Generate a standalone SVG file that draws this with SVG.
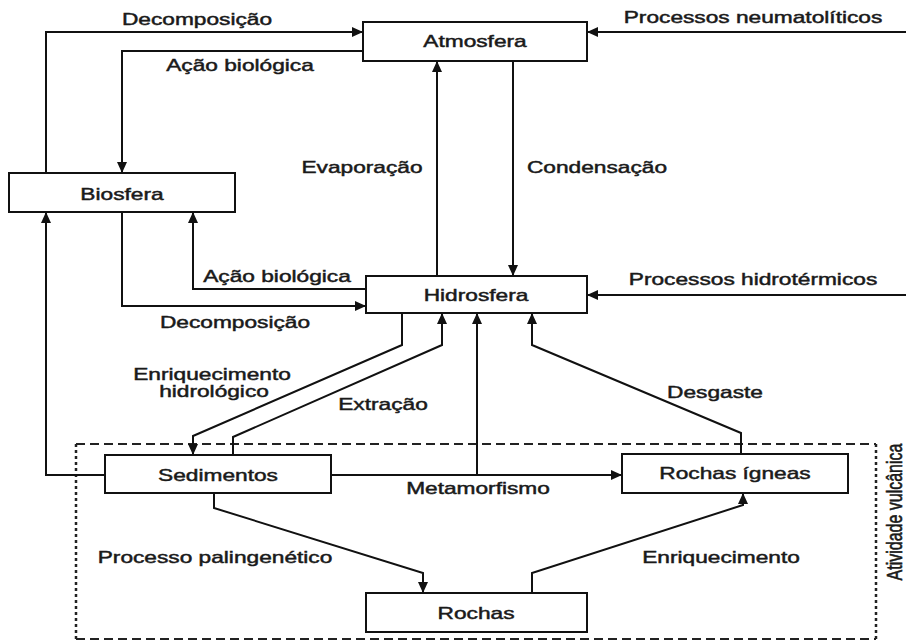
<svg xmlns="http://www.w3.org/2000/svg" width="906" height="644" viewBox="0 0 906 644">
<style>
.box{fill:#fff;stroke:#111;stroke-width:2}
.t{font-family:"Liberation Sans",Arial,sans-serif;font-size:16px;fill:#1a1a1a;stroke:#1a1a1a;stroke-width:0.45;text-anchor:middle}
.c{fill:none;stroke:#111;stroke-width:2;marker-end:url(#ah)}
.dh{fill:none;stroke:#222;stroke-width:2;stroke-dasharray:9,5}
.dv{fill:none;stroke:#222;stroke-width:2.5;stroke-dasharray:3,3}
</style>
<defs>
<marker id="ah" markerUnits="userSpaceOnUse" markerWidth="12" markerHeight="12" refX="11" refY="6" orient="auto">
<path d="M0,1 L11,6 L0,11 z" fill="#111"/>
</marker>
</defs>
<rect width="906" height="644" fill="#fff"/>
<g id="dashed-region">
<line class="dh" x1="76" y1="444" x2="876" y2="444"/>
<line class="dh" x1="76" y1="639" x2="876" y2="639"/>
<line class="dv" x1="76" y1="444" x2="76" y2="639"/>
<line class="dv" x1="876" y1="444" x2="876" y2="639"/>
<text class="t" transform="translate(902,512) rotate(-90) scale(1,1.35)">Atividade vulcânica</text>
</g>
<g id="connectors">
<polyline class="c" points="46,173 46,32 363,32"/>
<polyline class="c" points="363,51 122,51 122,173"/>
<polyline class="c" points="906,32 587,32"/>
<polyline class="c" points="437,276 437,61"/>
<polyline class="c" points="513,61 513,276"/>
<polyline class="c" points="122,212 122,306 366,306"/>
<polyline class="c" points="366,289 193,289 193,212"/>
<polyline class="c" points="906,295 587,295"/>
<polyline class="c" points="105,475 46,475 46,212"/>
<polyline class="c" points="402,313 402,345 193,436 193,455"/>
<polyline class="c" points="233,455 233,437 442,345 442,313"/>
<polyline class="c" points="331,475 622,475"/>
<polyline class="c" points="477,475 477,313"/>
<polyline class="c" points="741,454 741,433 532,345 532,313"/>
<polyline class="c" points="214,493 214,508 423,573 423,593"/>
<polyline class="c" points="532,593 532,573 743,505 743,493"/>
<text class="t" transform="translate(197,25) scale(1.42,1)">Decomposição</text>
<text class="t" transform="translate(240,71) scale(1.42,1)">Ação biológica</text>
<text class="t" transform="translate(753,23) scale(1.42,1)">Processos neumatolíticos</text>
<text class="t" transform="translate(362,173) scale(1.42,1)">Evaporação</text>
<text class="t" transform="translate(597,173) scale(1.42,1)">Condensação</text>
<text class="t" transform="translate(277,282) scale(1.42,1)">Ação biológica</text>
<text class="t" transform="translate(235,328) scale(1.42,1)">Decomposição</text>
<text class="t" transform="translate(753,285) scale(1.42,1)">Processos hidrotérmicos</text>
<text class="t" transform="translate(212,380) scale(1.42,1)">Enriquecimento</text>
<text class="t" transform="translate(214,397) scale(1.42,1)">hidrológico</text>
<text class="t" transform="translate(383,410) scale(1.42,1)">Extração</text>
<text class="t" transform="translate(715,398) scale(1.42,1)">Desgaste</text>
<text class="t" transform="translate(478,494) scale(1.42,1)">Metamorfismo</text>
<text class="t" transform="translate(215,563) scale(1.42,1)">Processo palingenético</text>
<text class="t" transform="translate(721,563) scale(1.42,1)">Enriquecimento</text>
</g>
<g id="atmosfera">
<rect class="box" x="363" y="22" width="224" height="39"/>
<text class="t" transform="translate(475,47) scale(1.42,1)">Atmosfera</text>
</g>
<g id="biosfera">
<rect class="box" x="9" y="173" width="226" height="39"/>
<text class="t" transform="translate(122,200) scale(1.42,1)">Biosfera</text>
</g>
<g id="hidrosfera">
<rect class="box" x="366" y="276" width="221" height="37"/>
<text class="t" transform="translate(476,301) scale(1.42,1)">Hidrosfera</text>
</g>
<g id="sedimentos">
<rect class="box" x="105" y="455" width="226" height="38"/>
<text class="t" transform="translate(218,481) scale(1.42,1)">Sedimentos</text>
</g>
<g id="rochas-igneas">
<rect class="box" x="622" y="454" width="226" height="39"/>
<text class="t" transform="translate(735,479) scale(1.42,1)">Rochas ígneas</text>
</g>
<g id="rochas">
<rect class="box" x="366" y="593" width="221" height="39"/>
<text class="t" transform="translate(476,619) scale(1.42,1)">Rochas</text>
</g>
</svg>
